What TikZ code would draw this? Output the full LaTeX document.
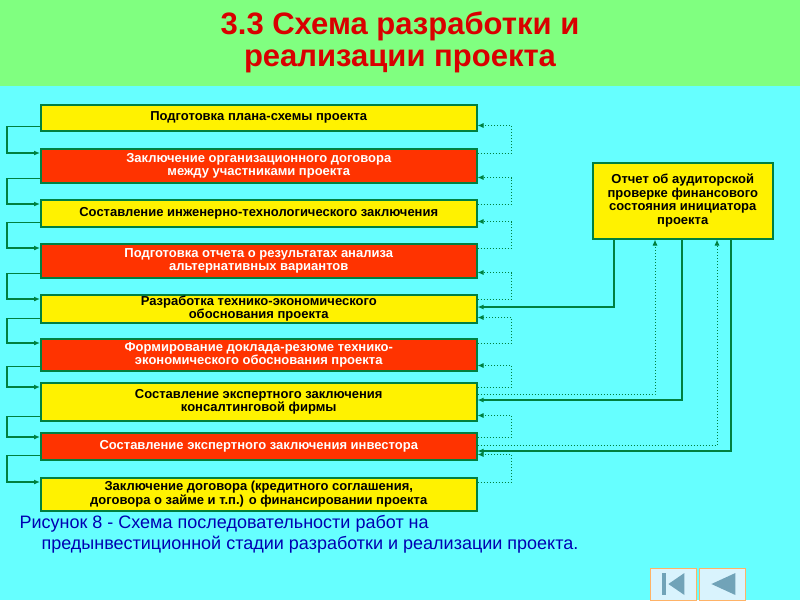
\documentclass[tikz,border=0pt]{standalone}
\usepackage{fontspec}
\setmainfont{Liberation Sans}
\usetikzlibrary{arrows.meta}
\definecolor{bg}{RGB}{102,255,255}
\definecolor{tb}{RGB}{128,255,128}
\definecolor{rd}{RGB}{255,51,0}
\definecolor{ln}{RGB}{0,128,64}
\begin{document}
\begin{tikzpicture}[x=1pt,y=-1pt,
 box/.style={draw=ln,line width=1.5pt,minimum width=436pt,inner sep=0pt,align=center,font=\bfseries\fontsize{13}{13.5}\selectfont,anchor=north west},
 yb/.style={box,fill=yellow},
 rb/.style={box,fill=rd,text=white},
 sl/.style={draw=ln,line width=1.5pt},
 dl/.style={draw=ln,line width=1pt,dotted},
 ar/.style={-{Latex[length=6pt,width=5pt]}}]
\fill[bg] (0,0) rectangle (800,600);
\fill[tb] (0,0) rectangle (800,86);
\node[text=red!85!black,font=\bfseries\fontsize{31}{32}\selectfont,align=center] (t) at (400,42) {3.3 Схема разработки и\\реализации проекта};
\def\B#1#2#3#4#5{\node[#2,minimum height=#4pt] (b#1) at (40,#3) {#5};}
\B{1}{yb}{104}{26}{Подготовка плана-схемы проекта}
\B{2}{rb}{148}{34}{Заключение организационного договора\\между участниками проекта}
\B{3}{yb}{199}{27}{Составление инженерно-технологического заключения}
\B{4}{rb}{243}{34}{Подготовка отчета о результатах анализа\\альтернативных вариантов}
\B{5}{yb}{294}{28}{Разработка технико-экономического\\обоснования проекта}
\B{6}{rb}{338}{32}{Формирование доклада-резюме технико-\\экономического обоснования проекта}
\B{7}{yb}{382}{38}{Составление экспертного заключения\\консалтинговой фирмы}
\B{8}{rb}{432}{27}{Составление экспертного заключения инвестора}
\B{9}{yb}{477}{33}{Заключение договора (кредитного соглашения,\\договора о займе и т.п.) о финансировании проекта}
\node[yb,minimum width=180pt,minimum height=76pt,anchor=north west] (r) at (592,162) {Отчет об аудиторской\\проверке финансового\\состояния инициатора\\проекта};
\foreach \i/\j in {1/2,2/3,3/4,4/5,5/6,6/7,7/8,8/9}{
 \draw[sl,ar] ([yshift=5pt]b\i.south west) -- ++(-33,0) |- ([yshift=-5pt]b\j.north west);
 \draw[dl,ar] ([yshift=-5pt]b\j.north east) -- ++(34,0) |- ([yshift=6pt]b\i.south east);
}
\draw[sl,ar] (r.south west-|614,0) -- (614,307) -- (b5.east|-0,307);
\draw[sl,ar] (r.south west-|682,0) -- (682,400) -- (b7.east|-0,400);
\draw[sl,ar] (r.south west-|731,0) -- (731,451) -- (b8.east|-0,451);
\draw[dl,ar] (b7.east|-0,394) -- (655,394) -- (r.south-|655,0);
\draw[dl,ar] (b8.east|-0,445) -- (717,445) -- (r.south-|717,0);
\node[text=blue!70!black,font=\fontsize{18}{21}\selectfont,align=left,anchor=north west] (c) at (16,512) {Рисунок 8 - Схема последовательности работ на\\\hspace*{22pt}предынвестиционной стадии разработки и реализации проекта.};
\foreach \n/\x in {p/650,q/699}{\node[draw=orange!60,fill=cyan!15!white,minimum width=46pt,minimum height=32pt,anchor=north west,inner sep=0pt] (btn\n) at (\x,568) {};}
\fill[cyan!40!gray] ([xshift=12pt,yshift=-5pt]btnp.north west) rectangle ++(4,22);
\fill[cyan!40!gray] ([xshift=-12pt,yshift=-5pt]btnp.north east) -- ++(0,22) -- ++(-16,-11) -- cycle;
\fill[cyan!40!gray] ([xshift=-10pt,yshift=-5pt]btnq.north east) -- ++(0,22) -- ++(-24,-11) -- cycle;
\end{tikzpicture}
\end{document}
